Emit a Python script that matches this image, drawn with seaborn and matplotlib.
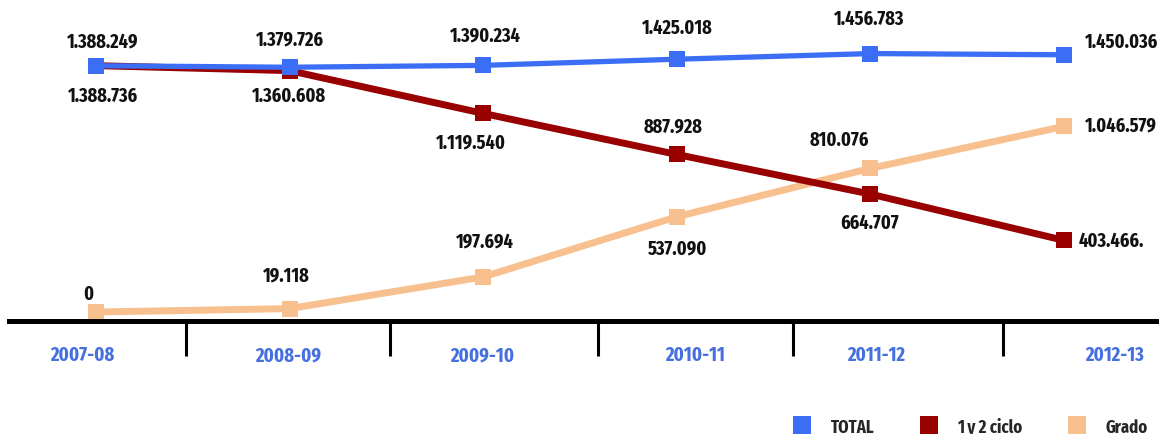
import matplotlib
matplotlib.use("Agg")
import matplotlib.pyplot as plt
from matplotlib.lines import Line2D
from matplotlib.ticker import FixedLocator
import pandas as pd
import seaborn as sns

# Alumnado matriculado por curso académico
cursos = ["2007-08", "2008-09", "2009-10", "2010-11", "2011-12", "2012-13"]
total = [1388249, 1379726, 1390234, 1425018, 1456783, 1450036]
ciclo = [1388736, 1360608, 1119540, 887928, 664707, 403466]
grado = [0, 19118, 197694, 537090, 810076, 1046579]
series = ["TOTAL", "1 y 2 ciclo", "Grado"]

sns.set_theme(style="white")
plt.rcParams["font.family"] = ["Saira Extra Condensed", "Fira Sans Extra Condensed",
                               "DejaVu Sans"]
plt.rcParams["font.weight"] = "bold"

df = pd.DataFrame({"pos": range(len(cursos)), "curso": cursos,
                   "TOTAL": total, "1 y 2 ciclo": ciclo, "Grado": grado})
largo = df.melt(id_vars=["pos", "curso"], var_name="serie", value_name="alumnos")

colores = {"TOTAL": "#3C6EF5", "1 y 2 ciclo": "#990000", "Grado": "#F8C08E"}
grosor = {"TOTAL": 3.8, "1 y 2 ciclo": 5, "Grado": 5}

fig = plt.figure(figsize=(11.59, 4.35), dpi=100)
ax = fig.add_axes([9 / 1159, 1 - 322 / 435, 1150 / 1159, 322 / 435])

for serie in ["Grado", "1 y 2 ciclo", "TOTAL"]:
    sns.lineplot(data=largo[largo.serie == serie], x="pos", y="alumnos",
                 color=colores[serie], marker="s", markersize=12,
                 markeredgewidth=0, linewidth=grosor[serie], ax=ax,
                 legend=False)

def fmt(v):
    return f"{v:,}".replace(",", ".")

# desplazamiento de cada etiqueta (px) respecto a su punto
desplaz = {
    "TOTAL": [(7, 25, "center"), (0, 28, "center"), (2, 31, "center"),
              (0, 32, "center"), (-1, 35, "center"), (21, 13, "left")],
    "1 y 2 ciclo": [(7, -30, "center"), (-1, -25, "center"), (-12, -28, "center"),
                    (-4, 29, "center"), (-1, -28, "center"), (15, 0, "left")],
    "Grado": [(-8, 19, "center"), (-3, 34, "center"), (2, 36, "center"),
              (1, -31, "center"), (-31, 29, "center"), (21, 2, "left")],
}
valores = {"TOTAL": total, "1 y 2 ciclo": ciclo, "Grado": grado}
for serie in series:
    for i, v in enumerate(valores[serie]):
        dx, dy, ha = desplaz[serie][i]
        txt = fmt(v)
        if serie == "1 y 2 ciclo" and i == len(cursos) - 1:
            txt += "."
        ax.annotate(txt, xy=(i, v), xytext=(dx, dy), textcoords="offset pixels",
                    ha=ha, va="center", fontsize=14.2, color="#111111",
                    fontweight="bold", annotation_clip=False)

ax.set_xlim(-0.449, 5.49)
ax.set_ylim(-50700, 1764400)
ax.set_xlabel("")
ax.set_ylabel("")
ax.set_yticks([])
for s in ["top", "left", "right"]:
    ax.spines[s].set_visible(False)
ax.spines["bottom"].set_linewidth(3.6)
ax.spines["bottom"].set_color("black")

# rótulos de curso y separadores entre cursos
pos_etiquetas = [-0.072, 0.992, 1.994, 3.094, 4.029, 5.263]
pos_separadores = [0.465, 1.519, 2.593, 3.600, 4.685]
ax.set_xticks(pos_etiquetas)
ax.set_xticklabels(cursos, color="#4670E0", fontsize=14.5, fontweight="bold")
ax.tick_params(axis="x", which="major", length=0, pad=17)
ax.xaxis.set_minor_locator(FixedLocator(pos_separadores))
ax.tick_params(axis="x", which="minor", bottom=True, length=25, width=2.2,
               color="black", direction="out")

handles = [Line2D([], [], linestyle="none", marker="s", markersize=13,
                  markeredgewidth=0, color=colores[s]) for s in series]
fig.legend(handles, series, ncol=3, frameon=False, loc="lower right",
           bbox_to_anchor=(1.0045, -0.041), fontsize=13,
           handlelength=1.0, handletextpad=1.1, columnspacing=2.5)

fig.savefig("out.png", dpi=100)
